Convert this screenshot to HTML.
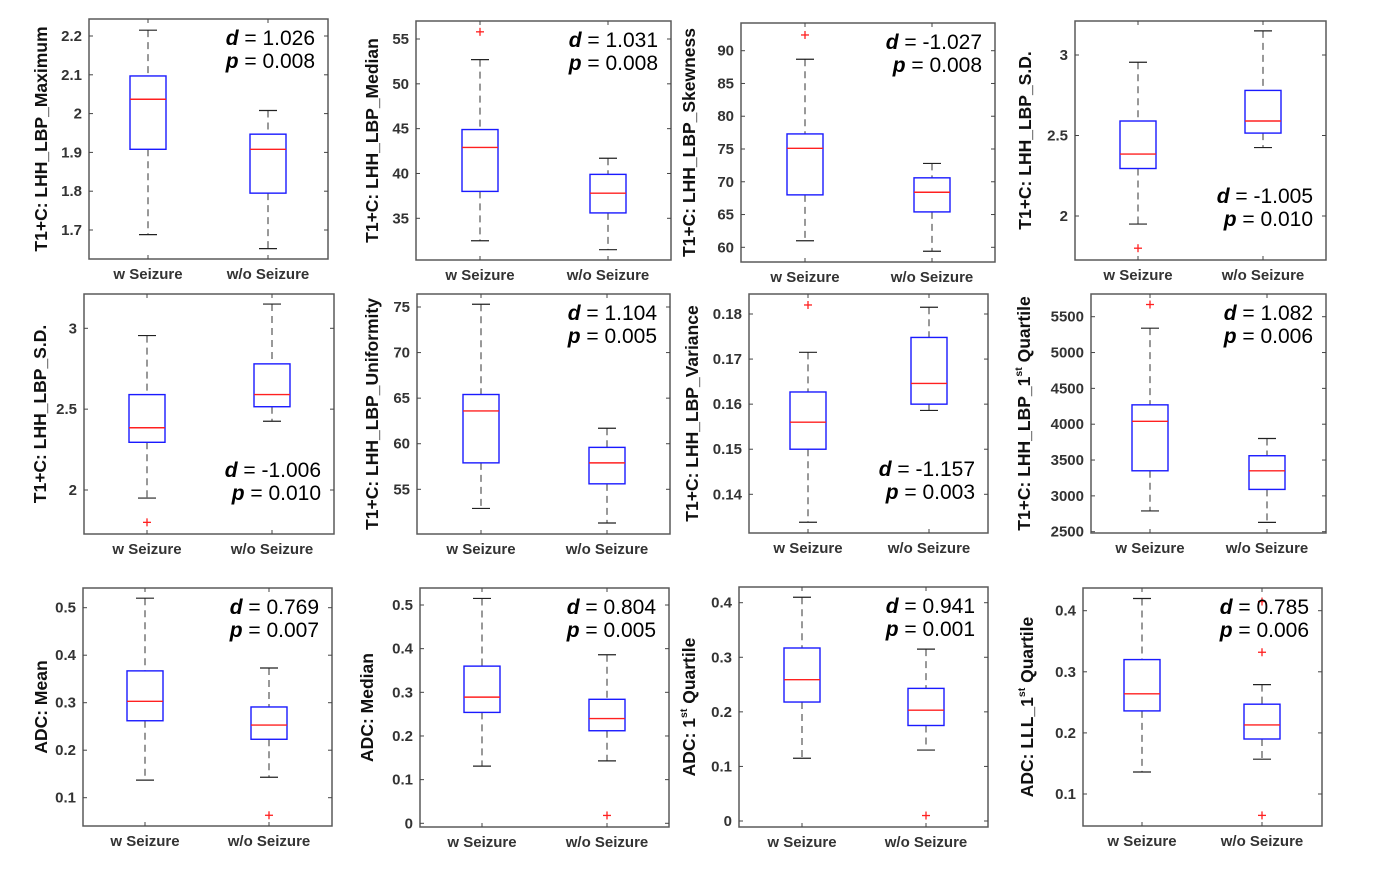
<!DOCTYPE html>
<html><head><meta charset="utf-8"><style>
html,body{margin:0;padding:0;background:#fff;}
svg{display:block;}
text{font-family:"Liberation Sans",sans-serif;}
</style></head><body>
<svg id="fig" width="1378" height="881" viewBox="0 0 1378 881" xmlns="http://www.w3.org/2000/svg"></svg>
<script>
// ---- data ----
const categories = ["w Seizure", "w/o Seizure"];
const yLabels = ["T1+C: LHH_LBP_Maximum","T1+C: LHH_LBP_Median","T1+C: LHH_LBP_Skewness","T1+C: LHH_LBP_S.D.",
  "T1+C: LHH_LBP_S.D.","T1+C: LHH_LBP_Uniformity","T1+C: LHH_LBP_Variance","T1+C: LHH_LBP_1|st| Quartile",
  "ADC: Mean","ADC: Median","ADC: 1|st| Quartile","ADC: LLL_1|st| Quartile"];
const dVals = ["1.026","1.031","-1.027","-1.005","-1.006","1.104","-1.157","1.082","0.769","0.804","0.941","0.785"];
const pVals = ["0.008","0.008","0.008"," 0.010"," 0.010","0.005"," 0.003","0.006","0.007","0.005","0.001","0.006"];
const wMax = [2.215,52.7,88.7,2.955,2.955,75.3,0.1715,5340,0.52,0.515,0.41,0.42];
const wQ3  = [2.097,44.9,77.3,2.59,2.59,65.4,0.1627,4270,0.367,0.36,0.317,0.32];
const wMed = [2.037,42.9,75.1,2.385,2.385,63.6,0.156,4040,0.303,0.289,0.259,0.264];
const wQ1  = [1.908,38.0,68.0,2.295,2.295,57.9,0.150,3350,0.262,0.254,0.218,0.236];
const wMin = [1.688,32.5,61.0,1.95,1.95,52.9,0.1338,2790,0.137,0.131,0.115,0.136];
const woMax = [2.008,41.7,72.8,3.15,3.15,61.7,0.1815,3800,0.373,0.386,0.315,0.279];
const woQ3  = [1.947,39.9,70.6,2.78,2.78,59.6,0.1748,3560,0.291,0.284,0.243,0.247];
const woMed = [1.908,37.8,68.4,2.59,2.59,57.9,0.1646,3350,0.253,0.24,0.203,0.213];
const woQ1  = [1.795,35.6,65.4,2.515,2.515,55.6,0.1600,3090,0.223,0.212,0.175,0.19];
const woMin = [1.652,31.5,59.4,2.425,2.425,51.3,0.1586,2630,0.143,0.143,0.13,0.157];
const wOut  = [[],[55.8],[92.4],[1.80],[1.80],[],[0.182],[5670],[],[],[],[]];
const woOut = [[],[],[],[],[],[],[],[],[0.063],[0.018],[0.01],[0.332,0.065,0.415]];
const tickVals = [[1.7,1.8,1.9,2,2.1,2.2],[35,40,45,50,55],[60,65,70,75,80,85,90],[2,2.5,3],
  [2,2.5,3],[55,60,65,70,75],[0.14,0.15,0.16,0.17,0.18],[2500,3000,3500,4000,4500,5000,5500],
  [0.1,0.2,0.3,0.4,0.5],[0,0.1,0.2,0.3,0.4,0.5],[0,0.1,0.2,0.3,0.4],[0.1,0.2,0.3,0.4]];
const tickLabels = [["1.7","1.8","1.9","2","2.1","2.2"],["35","40","45","50","55"],["60","65","70","75","80","85","90"],["2","2.5","3"],
  ["2","2.5","3"],["55","60","65","70","75"],["0.14","0.15","0.16","0.17","0.18"],["2500","3000","3500","4000","4500","5000","5500"],
  ["0.1","0.2","0.3","0.4","0.5"],["0","0.1","0.2","0.3","0.4","0.5"],["0","0.1","0.2","0.3","0.4"],["0.1","0.2","0.3","0.4"]];
const annotBottom = [false,false,false,true,true,false,true,false,false,false,false,false];

// ---- layout (pixels) ----
const frames = [[89,19,328,259],[416,21,671,260],[741,23,995,262],[1075,21,1326,260],
  [84,294,334,534],[417,294,670,534],[749,294,988,533],[1091,294,1326,533],
  [83,588,332,826],[420,588,669,827],[739,587,988,827],[1083,588,1322,826]];
const scaleRef = [[2.2,36,1.7,230],[55,39,35,218.3],[90,50.7,60,247.3],[3,55,2,216],
  [3,328.3,2,490],[75,307,55,489.3],[0.18,314,0.14,494.3],[5500,316.7,2500,531.7],
  [0.5,607.7,0.1,797.7],[0.5,605,0,823.3],[0.4,602.7,0,821],[0.4,610.7,0.1,794]];
const catX = [[148,268],[480,608],[805,932],[1138,1263],[147,272],[481,607],[808,929],[1150,1267],
  [145,269],[482,607],[802,926],[1142,1262]];
const labelOff = [47,43,51,49,43,44,56,66,41,52,49,55];

const NS = "http://www.w3.org/2000/svg";
const svg = document.getElementById("fig");
function mk(tag, attrs, parent){
  const e = document.createElementNS(NS, tag);
  for (const k in attrs) e.setAttribute(k, attrs[k]);
  (parent||svg).appendChild(e);
  return e;
}

for (let i = 0; i < 12; i++){
  const [L,T,R,B] = frames[i];
  const [v0,y0,v1,y1] = scaleRef[i];
  const yS = v => y0 + (v - v0) * (y1 - y0) / (v1 - v0);
  const g = mk("g", {});
  
  

  const fr = mk("rect", {x:L, y:T, width:R-L, height:B-T, fill:"none", stroke:"#5a5a5a", "stroke-width":1.5}, g);
  
  

  tickVals[i].forEach((v, k) => {
    const y = yS(v);
    mk("line", {x1:L, x2:L+4, y1:y, y2:y, stroke:"#444", "stroke-width":1}, g);
    mk("line", {x1:R-4, x2:R, y1:y, y2:y, stroke:"#444", "stroke-width":1}, g);
    const t = mk("text", {x:L-7, y:y+5, "text-anchor":"end", "font-size":15, "font-weight":"bold", fill:"#333"}, g);
    t.textContent = tickLabels[i][k];
    
    
  });

  const lx = L - labelOff[i], ly = (T + B) / 2;
  const yl = mk("text", {x:lx, y:ly, transform:`rotate(-90 ${lx} ${ly})`, "text-anchor":"middle", "font-size":17.5, "font-weight":"bold", fill:"#111"}, g);
  
  
  yl.setAttribute("dominant-baseline", "middle");
  yLabels[i].split("|").forEach((part, k) => {
    const ts = mk("tspan", {}, yl);
    if (k === 1){ ts.setAttribute("baseline-shift","super"); ts.setAttribute("font-size","10.5"); }
    ts.textContent = part;
  });

  const stats = [[wMin[i],wQ1[i],wMed[i],wQ3[i],wMax[i],wOut[i]],[woMin[i],woQ1[i],woMed[i],woQ3[i],woMax[i],woOut[i]]];
  stats.forEach((s, c) => {
    const cx = catX[i][c];
    mk("line", {x1:cx, x2:cx, y1:T, y2:T+4, stroke:"#444"}, g);
    mk("line", {x1:cx, x2:cx, y1:B-4, y2:B, stroke:"#444"}, g);
    const ct = mk("text", {x:cx, y:B+20, "text-anchor":"middle", "font-size":15, "font-weight":"bold", fill:"#333"}, g);
    ct.textContent = categories[c];
    
    

    const [mn,q1,md,q3,mx,out] = s;
    const hw = 18;
    const wh = mk("g", {}, g);
    
    
    mk("line", {x1:cx, x2:cx, y1:yS(mx), y2:yS(q3), stroke:"#333", "stroke-dasharray":"7,5"}, wh);
    mk("line", {x1:cx, x2:cx, y1:yS(q1), y2:yS(mn), stroke:"#333", "stroke-dasharray":"7,5"}, wh);
    mk("line", {x1:cx-9, x2:cx+9, y1:yS(mx), y2:yS(mx), stroke:"#222", "stroke-width":1.2}, wh);
    mk("line", {x1:cx-9, x2:cx+9, y1:yS(mn), y2:yS(mn), stroke:"#222", "stroke-width":1.2}, wh);
    const bx = mk("rect", {x:cx-hw, y:yS(q3), width:2*hw, height:yS(q1)-yS(q3), fill:"#fff", stroke:"#1a1aff", "stroke-width":1.4}, g);
    
    
    const ml = mk("line", {x1:cx-hw, x2:cx+hw, y1:yS(md), y2:yS(md), stroke:"#ff2020", "stroke-width":1.4}, g);
    
    
    out.forEach(o => {
      const oy = yS(o);
      const og = mk("g", {}, g);
      
      
      mk("line", {x1:cx-4, x2:cx+4, y1:oy, y2:oy, stroke:"#ff2020", "stroke-width":1.3}, og);
      mk("line", {x1:cx, x2:cx, y1:oy-4, y2:oy+4, stroke:"#ff2020", "stroke-width":1.3}, og);
    });
  });

  const ax = R - 13;
  const ay1 = annotBottom[i] ? B - 57 : T + 26;
  const ay2 = ay1 + 23;
  [["d", dVals[i], ay1],["p", pVals[i], ay2]].forEach(([sym, val, yy]) => {
    const t = mk("text", {x:ax, y:yy, "text-anchor":"end", "font-size":21, fill:"#000", "xml:space":"preserve"}, g);
    
    
    const a = mk("tspan", {"font-style":"italic", "font-weight":"bold"}, t);
    a.textContent = sym;
    const b = mk("tspan", {}, t);
    b.textContent = " = " + val;
  });
}
</script>
</body></html>
